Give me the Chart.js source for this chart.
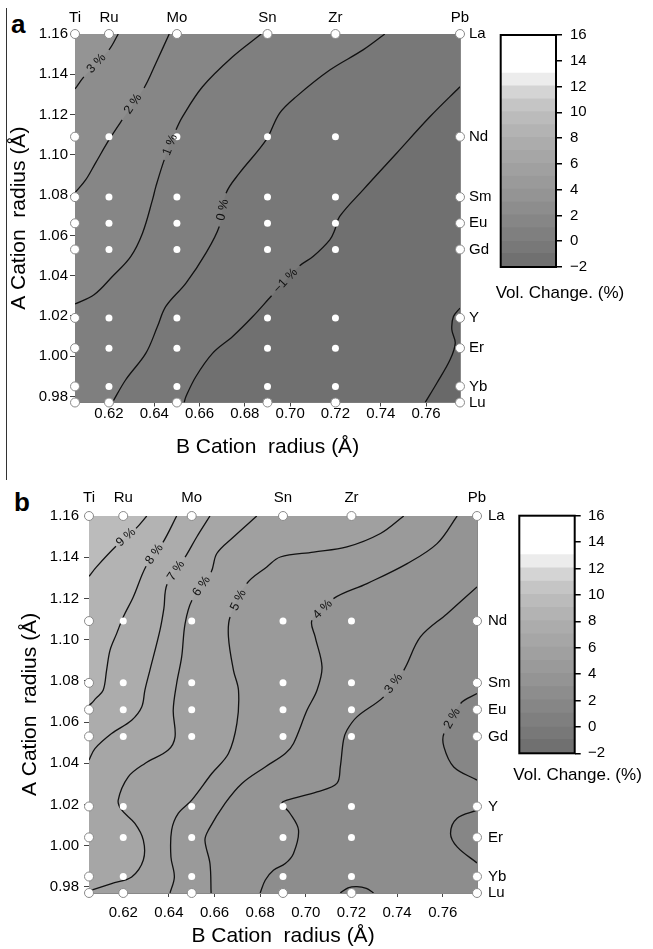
<!DOCTYPE html>
<html>
<head>
<meta charset="utf-8">
<script src="https://cdn.jsdelivr.net/npm/chart.js@4.4.0/dist/chart.umd.min.js"></script>
<style>
  body { margin: 0; background: #fff; width: 653px; height: 949px; position: relative; overflow: hidden;
         font-family: 'Liberation Sans', Arial, sans-serif; }
  canvas { position: absolute; }
  .tag { position: absolute; font-weight: bold; font-size: 26px; line-height: 1; color: #000; }
  #rule { position: absolute; left: 6px; top: 8px; height: 472px; border-left: 1.5px solid #333; }
</style>
</head>
<body>
<div id="rule"></div>
<div class="tag" style="left:11px;top:11px">a</div>
<div class="tag" style="left:14px;top:489px">b</div>
<canvas id="plotA" width="653" height="470" style="left:0;top:0"></canvas>
<canvas id="barA" width="173" height="320" style="left:480px;top:0"></canvas>
<canvas id="plotB" width="653" height="479" style="left:0;top:470px"></canvas>
<canvas id="barB" width="173" height="330" style="left:480px;top:470px"></canvas>
<script>
Chart.defaults.font.family = "'Liberation Sans', Arial, sans-serif";
Chart.defaults.color = '#000';

// B-site cations (top axis) and A-site cations (right axis), radii in Å
const bNames = ['Ti', 'Ru', 'Mo', 'Sn', 'Zr', 'Pb'];
const bRadii = [0.605, 0.62, 0.65, 0.69, 0.72, 0.775];
const aNames = ['La', 'Nd', 'Sm', 'Eu', 'Gd', 'Y', 'Er', 'Yb', 'Lu'];
const aRadii = [1.16, 1.109, 1.079, 1.066, 1.053, 1.019, 1.004, 0.985, 0.977];

const xTicks = [0.62, 0.64, 0.66, 0.68, 0.70, 0.72, 0.74, 0.76];
const yTicks = [0.98, 1.00, 1.02, 1.04, 1.06, 1.08, 1.10, 1.12, 1.14, 1.16];

// colour scale (vol. change %), one band per percent
const barTicks = [-2, 0, 2, 4, 6, 8, 10, 12, 14, 16];
const barLevels = [-2, -1, 0, 1, 2, 3, 4, 5, 6, 7, 8, 9, 10, 11, 12, 13, 14, 15];
const barShades = [112, 120, 127, 134, 141, 148, 154, 160, 166, 172, 179, 187, 197, 212, 236, 255, 255, 255];

// panel a contour lines, [B radius, A radius]
const volA3 = [[0.6241, 1.16], [0.62, 1.1521], [0.6089, 1.1387], [0.605, 1.1327]];
const volA2 = [[0.6466, 1.16], [0.6407, 1.1455], [0.6355, 1.1332], [0.6258, 1.1173], [0.62, 1.1074],
  [0.6141, 1.096], [0.6097, 1.0875], [0.605, 1.0812]];
const volA1 = [[0.6872, 1.16], [0.6746, 1.1487], [0.6613, 1.1338], [0.6525, 1.119], [0.6496, 1.1124],
  [0.6444, 1.0975], [0.6407, 1.0842], [0.6392, 1.0776], [0.6348, 1.0611], [0.6296, 1.0495],
  [0.6215, 1.0396], [0.6134, 1.0305], [0.605, 1.0259]];
const volA0 = [[0.7418, 1.16], [0.7322, 1.1521], [0.7175, 1.1421], [0.7027, 1.1289], [0.6953, 1.1206],
  [0.6894, 1.1074], [0.6776, 1.0909], [0.6717, 1.0809], [0.6687, 1.0644], [0.6628, 1.0512],
  [0.654, 1.0363], [0.6451, 1.0247], [0.6414, 1.0147], [0.6363, 1.0015], [0.6274, 0.9883], [0.6215, 0.977]];
const volAm1 = [[0.775, 1.1338], [0.7618, 1.119], [0.747, 1.1008], [0.7322, 1.0826], [0.7218, 1.0693],
  [0.7197, 1.0627], [0.7175, 1.0578], [0.7101, 1.0495], [0.7042, 1.0449], [0.6918, 1.03],
  [0.6835, 1.0197], [0.6746, 1.0098], [0.6658, 1.0015], [0.6584, 0.9899], [0.654, 0.98], [0.6532, 0.977]];
const volAm2 = [[0.775, 1.0239], [0.7721, 1.0197], [0.7714, 1.0131], [0.7729, 1.0065], [0.7706, 0.9982],
  [0.7648, 0.9867], [0.7596, 0.977]];

// panel b contour lines
const volB9 = [[0.6303, 1.16], [0.6256, 1.154], [0.6168, 1.1453], [0.6083, 1.1353], [0.605, 1.1307]];
const volB8 = [[0.6434, 1.16], [0.6374, 1.1472], [0.63, 1.1356], [0.6244, 1.1207], [0.62, 1.111],
  [0.6171, 1.1029], [0.6142, 1.0948], [0.6127, 1.0851], [0.6112, 1.0754], [0.608, 1.0715],
  [0.6061, 1.0691], [0.605, 1.0681]];
const volB7 = [[0.658, 1.16], [0.6522, 1.1498], [0.6471, 1.14], [0.6392, 1.1269], [0.6378, 1.115],
  [0.6361, 1.1046], [0.6317, 1.0852], [0.6295, 1.0755], [0.6281, 1.0673], [0.6237, 1.0609],
  [0.6149, 1.0544], [0.6076, 1.0471], [0.605, 1.0415]];
const volB6 = [[0.6785, 1.16], [0.6683, 1.1498], [0.661, 1.1418], [0.6585, 1.1327], [0.6501, 1.1191],
  [0.6471, 1.1078], [0.6456, 1.0916], [0.6434, 1.0787], [0.6419, 1.0657], [0.6427, 1.0528],
  [0.6397, 1.0464], [0.6295, 1.0399], [0.6222, 1.0334], [0.6178, 1.0221], [0.6193, 1.0173],
  [0.6251, 1.0108], [0.6288, 1.0027], [0.6288, 0.993], [0.6237, 0.9848], [0.6149, 0.9816],
  [0.6061, 0.9784], [0.605, 0.9779]];
const volB5 = [[0.7429, 1.16], [0.7327, 1.1515], [0.718, 1.145], [0.7034, 1.1425], [0.6888, 1.1401],
  [0.6829, 1.1353], [0.6741, 1.1272], [0.6668, 1.111], [0.6661, 1.1013], [0.6683, 1.0851],
  [0.6705, 1.0754], [0.6698, 1.0593], [0.6661, 1.0447], [0.6588, 1.035], [0.65, 1.0221],
  [0.6441, 1.0156], [0.6412, 1.0075], [0.6409, 0.9945], [0.6424, 0.9848], [0.6405, 0.977]];
const volB4 = [[0.7663, 1.16], [0.7575, 1.1466], [0.7444, 1.1369], [0.7268, 1.1272], [0.7121, 1.1199],
  [0.7027, 1.1094], [0.7041, 1.1013], [0.7071, 1.0867], [0.7049, 1.0754], [0.7005, 1.0657],
  [0.6946, 1.0496], [0.691, 1.0447], [0.6822, 1.0382], [0.672, 1.0302], [0.6646, 1.0205],
  [0.6573, 1.0075], [0.6558, 1.0026], [0.658, 0.9913], [0.6585, 0.977]];
const volB3 = [[0.775, 1.1256], [0.7619, 1.1126], [0.7502, 1.1013], [0.7429, 1.0851], [0.7341, 1.0722],
  [0.7224, 1.0625], [0.718, 1.056], [0.7165, 1.0512], [0.7151, 1.0382], [0.7136, 1.0302],
  [0.7049, 1.0261], [0.6917, 1.0221], [0.6895, 1.0205], [0.6931, 1.0156], [0.6968, 1.0075],
  [0.6946, 0.9962], [0.691, 0.9913], [0.6858, 0.988], [0.6822, 0.9832], [0.68, 0.977]];
const volB2a = [[0.775, 1.0738], [0.7678, 1.069], [0.7605, 1.0544], [0.7605, 1.0479], [0.7648, 1.0382], [0.775, 1.0318]];
const volB2b = [[0.775, 1.0172], [0.7663, 1.0133], [0.7634, 1.0059], [0.7663, 0.9994], [0.775, 0.9916]];
const volB2c = [[0.7151, 0.977], [0.7185, 0.9795], [0.7224, 0.9801], [0.7265, 0.9792], [0.7297, 0.977]];

const gray = v => `rgb(${v},${v},${v})`;
const bandColor = lo => gray(barShades[barLevels.indexOf(lo)]);
const pct = v => (v < 0 ? '\u2212' + Math.abs(v) : String(v));

// measured compositions; the ones on the frame get an outline
function samplePoints(onFrame) {
  const out = [];
  bRadii.forEach((bx, i) => aRadii.forEach((ay, j) => {
    const edge = i === 0 || i === bRadii.length - 1 || j === 0 || j === aRadii.length - 1;
    if (edge === onFrame) out.push({x: bx, y: ay});
  }));
  return out;
}

// paints the shaded bands: base colour, then each contour closed along the frame
function bandFill(base) {
  return {
    id: 'bandFill',
    beforeDatasetsDraw(chart) {
      const {ctx, chartArea: area} = chart;
      const sx = chart.scales.x, sy = chart.scales.y;
      const corner = {tl: [sx.min, sy.max], tr: [sx.max, sy.max], bl: [sx.min, sy.min], br: [sx.max, sy.min]};
      ctx.save();
      ctx.beginPath();
      ctx.rect(area.left, area.top, area.width, area.height);
      ctx.clip();
      ctx.fillStyle = base;
      ctx.fillRect(area.left, area.top, area.width, area.height);
      chart.data.datasets.forEach((ds, i) => {
        if (!ds.fillColor) return;
        const meta = chart.getDatasetMeta(i);
        meta.dataset.updateControlPoints(area, 'x');
        const pts = meta.data;
        ctx.beginPath();
        ctx.moveTo(pts[0].x, pts[0].y);
        for (let k = 1; k < pts.length; k++) {
          const p = pts[k - 1], q = pts[k];
          if (p.cp2x !== undefined) ctx.bezierCurveTo(p.cp2x, p.cp2y, q.cp1x, q.cp1y, q.x, q.y);
          else ctx.lineTo(q.x, q.y);
        }
        ds.corners.forEach(c => ctx.lineTo(sx.getPixelForValue(corner[c][0]), sy.getPixelForValue(corner[c][1])));
        ctx.closePath();
        ctx.fillStyle = ds.fillColor;
        ctx.fill();
      });
      ctx.restore();
    }
  };
}

// "n %" written along the contour, in the gap left in the line
const contourLabels = {
  id: 'contourLabels',
  afterDatasetsDraw(chart) {
    const ctx = chart.ctx;
    chart.data.datasets.forEach((ds, i) => {
      if (ds.gap === undefined) return;
      const pts = chart.getDatasetMeta(i).data;
      const p = pts[ds.gap], q = pts[ds.gap + 1];
      let ang = Math.atan2(q.y - p.y, q.x - p.x);
      if (ang > Math.PI / 2) ang -= Math.PI;
      if (ang < -Math.PI / 2) ang += Math.PI;
      ctx.save();
      ctx.translate((p.x + q.x) / 2, (p.y + q.y) / 2);
      ctx.rotate(ang);
      ctx.font = "12.5px 'Liberation Sans', Arial, sans-serif";
      ctx.fillStyle = '#111';
      ctx.textAlign = 'center';
      ctx.textBaseline = 'middle';
      ctx.fillText(pct(ds.level) + ' %', 0, 0);
      ctx.restore();
    });
  }
};

function contourChart(id, g, specs, base) {
  const datasets = specs.map(s => ({
    data: s.pts.map(([x, y]) => ({x, y})),
    showLine: true, tension: 0.35, borderColor: '#111', borderWidth: 1.3,
    pointRadius: 0, pointHoverRadius: 0, order: 2,
    fillColor: bandColor(s.band), corners: s.corners, gap: s.gap, level: s.level,
    segment: { borderColor: c => (c.p0DataIndex === s.gap ? 'rgba(0,0,0,0)' : undefined) }
  }));
  datasets.push({ data: samplePoints(false), pointRadius: 3.5, pointBackgroundColor: '#fff',
    pointBorderWidth: 0, clip: false, order: 0 });
  datasets.push({ data: samplePoints(true), pointRadius: 4.5, pointBackgroundColor: '#fff',
    pointBorderColor: '#8a8a8a', pointBorderWidth: 1, clip: false, order: 0 });

  const xMin = bRadii[0], xMax = bRadii[bRadii.length - 1];
  const yMin = aRadii[aRadii.length - 1], yMax = aRadii[0];
  const tickFont = { size: 15 };

  return new Chart(document.getElementById(id), {
    type: 'scatter',
    data: { datasets },
    options: {
      responsive: false, animation: false, events: [],
      layout: { padding: 0 },
      plugins: { legend: { display: false }, tooltip: { enabled: false } },
      scales: {
        x: {
          type: 'linear', position: 'bottom', min: xMin, max: xMax,
          afterBuildTicks: s => { s.ticks = xTicks.map(v => ({ value: v })); },
          afterFit: s => { s.height = g.xH; },
          ticks: { font: tickFont, padding: g.xPad, autoSkip: false, maxRotation: 0, callback: v => v.toFixed(2) },
          grid: { drawOnChartArea: false, tickLength: 4, color: '#444' },
          border: { color: '#888' },
          title: { display: true, text: 'B Cation  radius (Å)', font: { size: 21 }, padding: { top: 0, bottom: g.xTitle } }
        },
        y: {
          type: 'linear', position: 'left', min: yMin, max: yMax,
          afterBuildTicks: s => { s.ticks = yTicks.map(v => ({ value: v })); },
          afterFit: s => { s.width = g.yW; },
          ticks: { font: tickFont, padding: g.yPad, autoSkip: false, callback: v => v.toFixed(2) },
          grid: { drawOnChartArea: false, tickLength: 5, color: '#444' },
          border: { color: '#888' },
          title: { display: true, text: 'A Cation  radius (Å)', font: { size: 21 }, padding: { top: g.yTitle, bottom: 0 } }
        },
        x2: {
          type: 'linear', position: 'top', min: xMin, max: xMax,
          afterBuildTicks: s => { s.ticks = bRadii.map(v => ({ value: v })); },
          afterFit: s => { s.height = g.x2H; },
          ticks: { font: tickFont, padding: g.x2Pad, autoSkip: false, maxRotation: 0, callback: (v, i) => bNames[i] },
          grid: { drawOnChartArea: false, drawTicks: false },
          border: { color: '#888' }
        },
        y2: {
          type: 'linear', position: 'right', min: yMin, max: yMax,
          afterBuildTicks: s => { s.ticks = aRadii.map(v => ({ value: v })); },
          afterFit: s => { s.width = g.y2W; },
          ticks: { font: tickFont, padding: g.y2Pad, autoSkip: false, callback: (v, i) => aNames[i] },
          grid: { drawOnChartArea: false, drawTicks: false },
          border: { color: '#888' }
        }
      }
    },
    plugins: [bandFill(base), contourLabels]
  });
}

// black frame round the colour bar and its caption underneath
function barFrame(capDx, capDy) {
  return {
    id: 'barFrame',
    afterDatasetsDraw(chart) {
      const { ctx, chartArea: a } = chart;
      ctx.save();
      ctx.strokeStyle = '#000';
      ctx.lineWidth = 2;
      ctx.strokeRect(a.left, a.top, a.width, a.height);
      ctx.font = "17px 'Liberation Sans', Arial, sans-serif";
      ctx.fillStyle = '#000';
      ctx.textAlign = 'left';
      ctx.textBaseline = 'middle';
      ctx.fillText('Vol. Change. (%)', a.left + capDx, a.bottom + capDy);
      ctx.restore();
    }
  };
}

function colorBar(id, g) {
  return new Chart(document.getElementById(id), {
    type: 'bar',
    data: {
      labels: [''],
      datasets: barLevels.map((lo, i) => ({
        data: [[lo, lo + 1]], backgroundColor: gray(barShades[i]), borderWidth: 0, inflateAmount: 1,
        barPercentage: 1, categoryPercentage: 1, grouped: false
      }))
    },
    options: {
      responsive: false, animation: false, events: [],
      layout: { padding: { left: g.left, top: g.top, right: 0, bottom: g.bottom } },
      plugins: { legend: { display: false }, tooltip: { enabled: false } },
      scales: {
        x: { display: false },
        y: {
          position: 'right', min: barTicks[0], max: barTicks[barTicks.length - 1],
          afterBuildTicks: s => { s.ticks = barTicks.map(v => ({ value: v })); },
          afterFit: s => { s.width = g.yW; },
          ticks: { font: { size: 15 }, padding: g.tickPad, callback: v => pct(v) },
          grid: { drawOnChartArea: false, tickLength: 6, color: '#000', lineWidth: 1.5 },
          border: { display: false }
        }
      }
    },
    plugins: [barFrame(g.capDx, g.capDy)]
  });
}

contourChart('plotA',
  { xH: 67.5, xPad: -2, xTitle: 10.4, yW: 75, yPad: 2, yTitle: 6.4, x2H: 34, x2Pad: 7, y2W: 193, y2Pad: 9 },
  [
    { pts: volAm2, level: -2, band: -2, corners: ['bl', 'tl', 'tr'] },
    { pts: volAm1, level: -1, band: -1, corners: ['bl', 'tl', 'tr'], gap: 8 },
    { pts: volA0, level: 0, band: 0, corners: ['bl', 'tl'], gap: 7 },
    { pts: volA1, level: 1, band: 1, corners: ['tl'], gap: 4 },
    { pts: volA2, level: 2, band: 2, corners: ['tl'], gap: 2 },
    { pts: volA3, level: 3, band: 3, corners: ['tl'], gap: 1 }
  ], gray(105));

contourChart('plotB',
  { xH: 56, xPad: 7, xTitle: 0, yW: 89, yPad: 5, yTitle: 17.4, x2H: 46, x2Pad: 9, y2W: 176, y2Pad: 11 },
  [
    { pts: volB2a, level: 2, band: 1, corners: [], gap: 1 },
    { pts: volB2b, level: 2, band: 1, corners: [] },
    { pts: volB2c, level: 2, band: 1, corners: [] },
    { pts: volB3, level: 3, band: 3, corners: ['bl', 'tl', 'tr'], gap: 3 },
    { pts: volB4, level: 4, band: 4, corners: ['bl', 'tl'], gap: 4 },
    { pts: volB5, level: 5, band: 5, corners: ['bl', 'tl'], gap: 6 },
    { pts: volB6, level: 6, band: 6, corners: ['tl'], gap: 3 },
    { pts: volB7, level: 7, band: 7, corners: ['tl'], gap: 2 },
    { pts: volB8, level: 8, band: 8, corners: ['tl'], gap: 1 },
    { pts: volB9, level: 9, band: 9, corners: ['tl'], gap: 1 }
  ], bandColor(2));

colorBar('barA', { left: 20.7, top: 35, bottom: 53, yW: 97, tickPad: 8, capDx: -5, capDy: 26 });
colorBar('barB', { left: 39.3, top: 45.7, bottom: 46.7, yW: 78.3, tickPad: 7.3, capDx: -6, capDy: 22 });
</script>
</body>
</html>
